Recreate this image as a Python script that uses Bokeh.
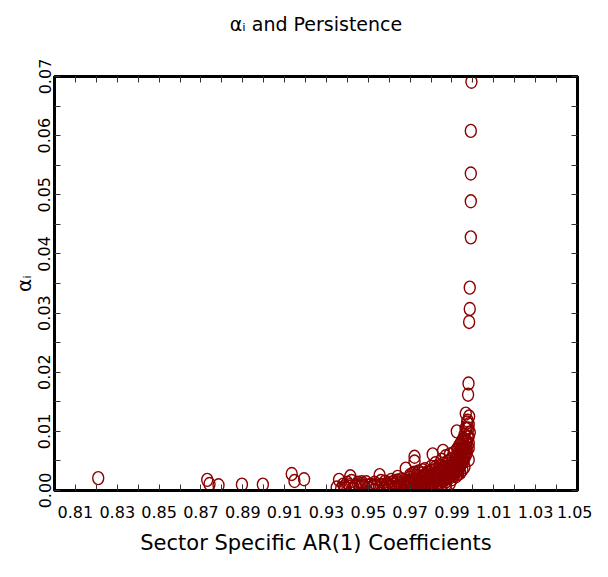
from bokeh.plotting import figure
from bokeh.models import (FixedTicker, LinearAxis, Range1d, PrintfTickFormatter,
                          CustomJSTickFormatter, ColumnDataSource)
from bokeh.embed import file_html
from bokeh.resources import INLINE

# ---------------- data ----------------
sparse_x = [0.8209, 0.8730, 0.8741, 0.8784, 0.8896, 0.8996, 0.9134, 0.9147, 0.9193,
            0.9349, 0.9360, 0.9386, 0.9414]
sparse_y = [0.0021, 0.0018, 0.0011, 0.0009, 0.0010, 0.0010, 0.0028, 0.0016, 0.0019,
            0.0005, 0.0018, 0.0007, 0.0024]

column_x = [0.9993, 0.9990, 0.9990, 0.9990, 0.9990, 0.9985, 0.9985, 0.9982, 0.9979, 0.9977]
column_y = [0.0691, 0.0608, 0.0536, 0.0489, 0.0428, 0.0343, 0.0307, 0.0285, 0.0181, 0.0162]

band_x = [
    0.937, 0.938, 0.939, 0.940, 0.941, 0.942, 0.943, 0.944, 0.945, 0.946, 0.947, 0.948, 0.949, 0.950, 0.951, 0.9469,
    0.952, 0.953, 0.954, 0.955, 0.9554, 0.956, 0.957, 0.958, 0.959, 0.960, 0.961, 0.962, 0.963, 0.964, 0.964, 0.965, 0.966, 0.967, 0.9679,
    0.968, 0.969, 0.970, 0.970, 0.971, 0.972, 0.972, 0.9721, 0.9721, 0.973, 0.973, 0.974, 0.974, 0.975, 0.975, 0.976, 0.976,
    0.977, 0.977, 0.978, 0.978, 0.979, 0.979, 0.980, 0.980, 0.9808, 0.981, 0.981, 0.982, 0.982, 0.982,
    0.983, 0.983, 0.984, 0.984, 0.985, 0.985, 0.985, 0.986, 0.986, 0.9857, 0.987, 0.987, 0.987, 0.988, 0.988,
    0.989, 0.989, 0.989, 0.990, 0.990, 0.991, 0.991, 0.991, 0.992, 0.992, 0.9923,
    0.993, 0.993, 0.993, 0.994, 0.994, 0.994, 0.995, 0.995, 0.995, 0.996, 0.996, 0.996, 0.997, 0.997, 0.997,
    0.9966, 0.9975, 0.998, 0.998, 0.998, 0.9982, 0.9985,
    0.977, 0.980, 0.984, 0.987, 0.990, 0.992, 0.994, 0.996, 0.998,
    0.983, 0.984, 0.986, 0.988, 0.989, 0.990, 0.991, 0.992, 0.993, 0.994, 0.995, 0.996, 0.997, 0.9975, 0.9965, 0.995,
    0.981, 0.979, 0.976, 0.974, 0.972, 0.970, 0.968, 0.965, 0.962, 0.959, 0.956, 0.953, 0.950, 0.947, 0.944, 0.941,
    0.978, 0.980, 0.982, 0.984, 0.986, 0.988, 0.990, 0.992, 0.994, 0.996, 0.997, 0.998, 0.9955, 0.9935, 0.9915,
    0.975, 0.977, 0.979, 0.981, 0.983, 0.985, 0.987, 0.989, 0.991, 0.993, 0.995, 0.9945, 0.9965, 0.9978, 0.9972,
    0.957, 0.960, 0.963, 0.966, 0.969, 0.971, 0.973, 0.975, 0.977, 0.979, 0.981, 0.983, 0.985, 0.987, 0.989,
    0.970, 0.972, 0.974, 0.976, 0.978, 0.980, 0.982, 0.984, 0.986, 0.988, 0.990, 0.992, 0.993, 0.994, 0.995,
    0.986, 0.988, 0.990, 0.991, 0.992, 0.993, 0.994, 0.995, 0.996, 0.9965, 0.997, 0.9955, 0.9945, 0.9935, 0.9925,
    0.958, 0.961, 0.964, 0.967, 0.970, 0.973, 0.976, 0.979, 0.982, 0.985, 0.988,
]
band_y = [
    0.0003, 0.0010, 0.0004, 0.0013, 0.0006, 0.0016, 0.0004, 0.0009, 0.0013, 0.0005, 0.0011, 0.0007, 0.0014, 0.0004, 0.0010, 0.0014,
    0.0006, 0.0013, 0.0008, 0.0004, 0.0026, 0.0016, 0.0009, 0.0005, 0.0012, 0.0007, 0.0018, 0.0010, 0.0006, 0.0023, 0.0014, 0.0008, 0.0019, 0.0011, 0.0037,
    0.0007, 0.0015, 0.0022, 0.0010, 0.0028, 0.0012, 0.0019, 0.0057, 0.0049, 0.0008, 0.0025, 0.0014, 0.0032, 0.0010, 0.0021, 0.0016, 0.0029,
    0.0012, 0.0036, 0.0019, 0.0026, 0.0014, 0.0031, 0.0022, 0.0040, 0.0061, 0.0016, 0.0028, 0.0020, 0.0035, 0.0046,
    0.0018, 0.0030, 0.0024, 0.0041, 0.0020, 0.0034, 0.0052, 0.0027, 0.0045, 0.0067, 0.0022, 0.0038, 0.0058, 0.0030, 0.0049,
    0.0025, 0.0042, 0.0061, 0.0034, 0.0053, 0.0029, 0.0046, 0.0064, 0.0038, 0.0057, 0.0100,
    0.0033, 0.0050, 0.0069, 0.0042, 0.0061, 0.0078, 0.0047, 0.0066, 0.0085, 0.0055, 0.0074, 0.0094, 0.0062, 0.0083, 0.0104,
    0.0130, 0.0118, 0.0072, 0.0091, 0.0112, 0.0125, 0.0098,
    0.0006, 0.0009, 0.0012, 0.0015, 0.0019, 0.0024, 0.0030, 0.0040, 0.0052,
    0.0025, 0.0032, 0.0036, 0.0040, 0.0034, 0.0044, 0.0038, 0.0048, 0.0042, 0.0052, 0.0056, 0.0064, 0.0072, 0.0090, 0.0084, 0.0076,
    0.0024, 0.0022, 0.0021, 0.0018, 0.0015, 0.0016, 0.0013, 0.0012, 0.0014, 0.0009, 0.0010, 0.0009, 0.0008, 0.0008, 0.0006, 0.0009,
    0.0011, 0.0013, 0.0016, 0.0019, 0.0023, 0.0027, 0.0031, 0.0036, 0.0045, 0.0060, 0.0068, 0.0080, 0.0050, 0.0037, 0.0033,
    0.0004, 0.0005, 0.0008, 0.0010, 0.0013, 0.0016, 0.0019, 0.0022, 0.0026, 0.0028, 0.0035, 0.0070, 0.0105, 0.0105, 0.0115,
    0.0003, 0.0004, 0.0004, 0.0005, 0.0005, 0.0006, 0.0005, 0.0007, 0.0008, 0.0008, 0.0009, 0.0006, 0.0008, 0.0010, 0.0012,
    0.0026, 0.0030, 0.0024, 0.0034, 0.0030, 0.0033, 0.0039, 0.0036, 0.0040, 0.0045, 0.0048, 0.0052, 0.0058, 0.0066, 0.0070,
    0.0018, 0.0022, 0.0027, 0.0032, 0.0036, 0.0040, 0.0045, 0.0050, 0.0058, 0.0066, 0.0078, 0.0088, 0.0082, 0.0076, 0.0070,
    0.0015, 0.0013, 0.0017, 0.0016, 0.0013, 0.0018, 0.0024, 0.0019, 0.0026, 0.0030, 0.0036,
]

x_major_ticks = [0.81, 0.83, 0.85, 0.87, 0.89, 0.91, 0.93, 0.95, 0.97, 0.99, 1.01, 1.03, 1.05]
x_minor_ticks = [0.80, 0.82, 0.84, 0.86, 0.88, 0.90, 0.92, 0.94, 0.96, 0.98, 1.00, 1.02, 1.04]
y_major_ticks = [0.00, 0.01, 0.02, 0.03, 0.04, 0.05, 0.06, 0.07]
y_minor_ticks = [0.005, 0.015, 0.025, 0.035, 0.045, 0.055, 0.065]

title_text = "αᵢ and Persistence"
x_label = "Sector Specific AR(1) Coefficients"
y_label = "αᵢ"

# ---------------- figure ----------------
FONT = "DejaVu Sans"
RED = "#8b0000"

all_x = sparse_x + column_x + band_x
all_y = sparse_y + column_y + band_y
src = ColumnDataSource(dict(x=all_x, y=all_y))

p = figure(width=592, height=561, output_backend="svg", toolbar_location=None,
           x_range=Range1d(0.80, 1.05), y_range=Range1d(0.0, 0.07),
           min_border_left=54, min_border_right=15, min_border_top=76, min_border_bottom=71,
           background_fill_color="white", border_fill_color="white")
p.title.text = ""
p.title.standoff = 0
p.grid.visible = False
p.outline_line_color = "black"
p.outline_line_width = 3

xt = FixedTicker(ticks=x_major_ticks, minor_ticks=x_minor_ticks)
yt = FixedTicker(ticks=y_major_ticks, minor_ticks=y_minor_ticks)
blank = CustomJSTickFormatter(code="return '';")


def style_axis(ax):
    ax.axis_line_color = "black"
    ax.axis_line_width = 3
    ax.major_tick_in = 6
    ax.major_tick_out = 0
    ax.minor_tick_in = 6
    ax.minor_tick_out = 0
    ax.major_tick_line_color = "#333333"
    ax.minor_tick_line_color = "#333333"
    ax.major_tick_line_width = 1
    ax.minor_tick_line_width = 1


xa = p.xaxis[0]
xa.ticker = xt
xa.formatter = PrintfTickFormatter(format="%.2f")
style_axis(xa)
xa.major_label_text_font = FONT
xa.major_label_text_font_size = "16px"
xa.major_label_text_color = "black"
xa.major_label_standoff = 15
xa.axis_label = x_label
xa.axis_label_text_font = FONT
xa.axis_label_text_font_size = "21px"
xa.axis_label_text_font_style = "normal"
xa.axis_label_text_color = "black"
xa.axis_label_standoff = 10

ya = p.yaxis[0]
ya.ticker = yt
ya.formatter = PrintfTickFormatter(format="%.2f")
style_axis(ya)
ya.major_label_orientation = "vertical"
ya.major_label_text_font = FONT
ya.major_label_text_font_size = "16px"
ya.major_label_text_color = "black"
ya.major_label_standoff = 4
ya.axis_label = y_label
ya.axis_label_text_font = FONT
ya.axis_label_text_font_size = "20px"
ya.axis_label_text_font_style = "normal"
ya.axis_label_text_color = "black"
ya.axis_label_standoff = 0

# top axis: inward ticks, no labels, carries the chart title
top = LinearAxis(ticker=xt, formatter=blank)
style_axis(top)
top.axis_line_width = 2
top.major_label_standoff = 0
top.major_label_text_font_size = "0px"
top.axis_label = title_text
top.axis_label_text_font = FONT
top.axis_label_text_font_size = "19px"
top.axis_label_text_font_style = "normal"
top.axis_label_text_color = "black"
top.axis_label_standoff = 42
p.add_layout(top, "above")

right = LinearAxis(ticker=yt, formatter=blank)
style_axis(right)
right.axis_line_width = 2
right.major_label_standoff = 0
right.axis_label_standoff = 0
right.major_label_text_font_size = "0px"
p.add_layout(right, "right")

p.ellipse(x="x", y="y", width=11, height=13, width_units="screen", height_units="screen",
          source=src, fill_color=None, line_color=RED, line_width=1.4)
p.scatter(x="x", y="y", source=src, marker="dot", size=3, color=RED, alpha=0.6)

open("out.html", "w").write(file_html(p, INLINE))
